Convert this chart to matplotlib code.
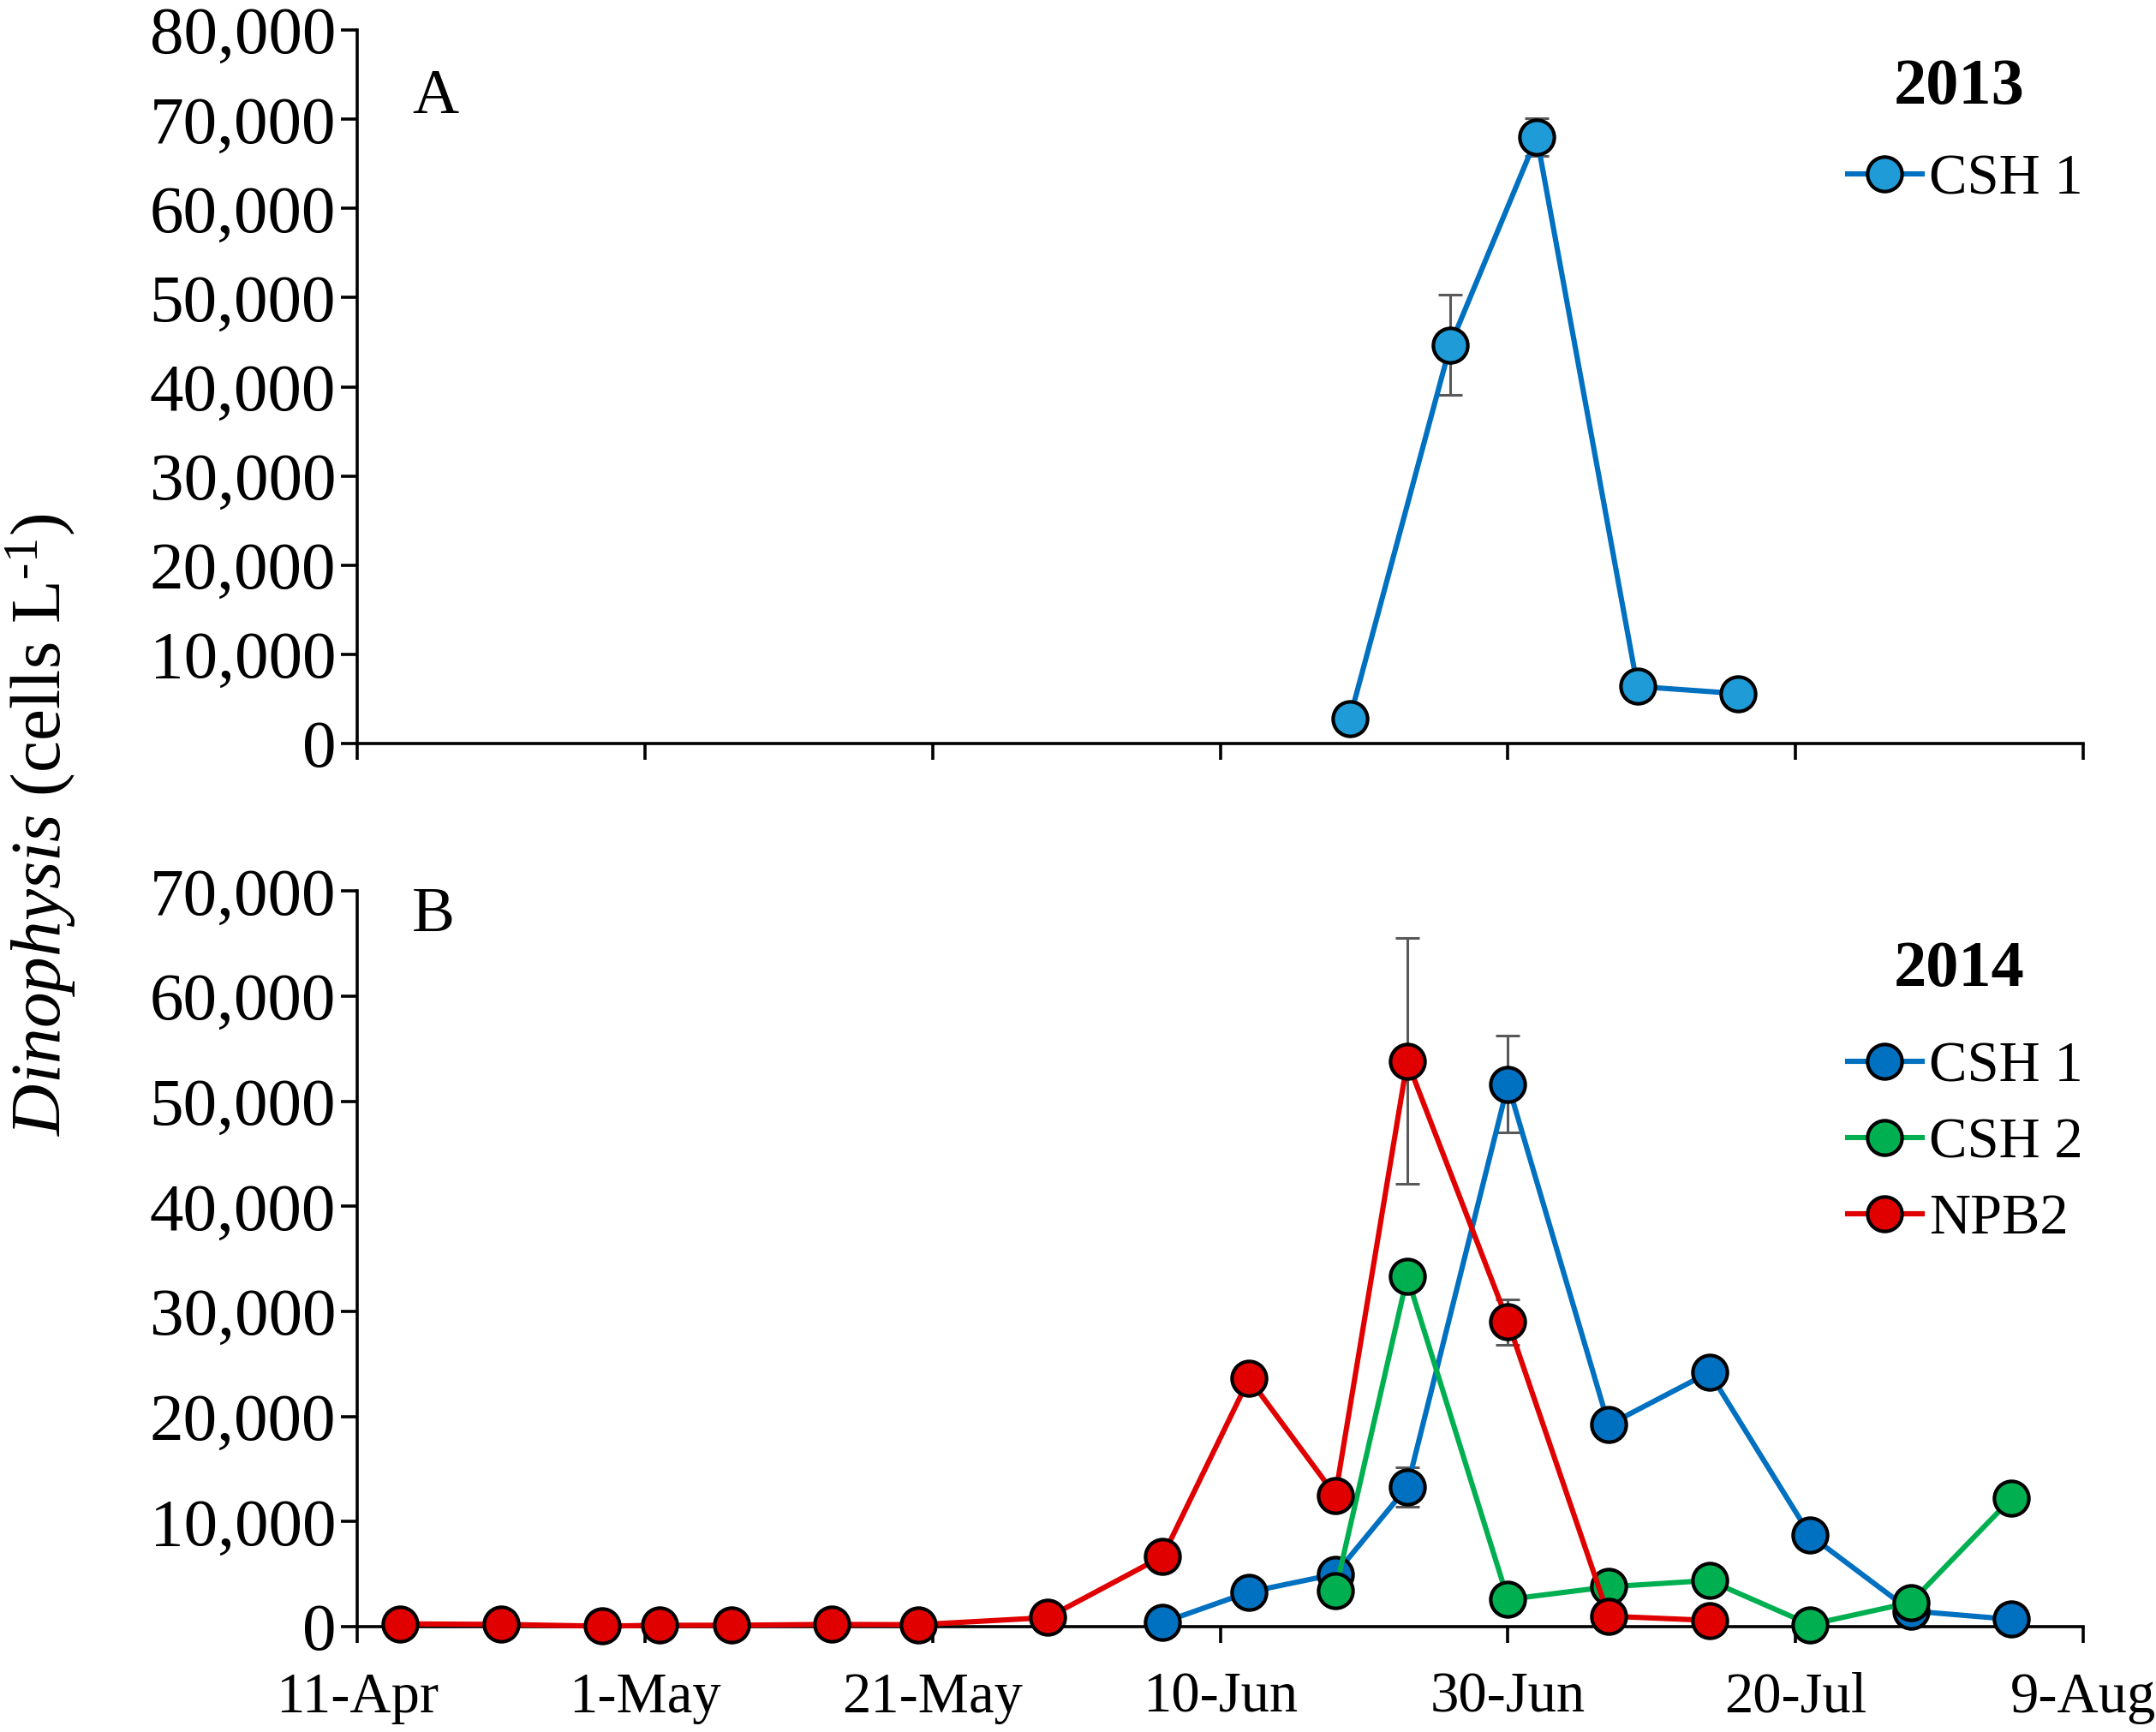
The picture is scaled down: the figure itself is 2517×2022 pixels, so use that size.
import matplotlib
matplotlib.use('Agg')
import matplotlib.pyplot as plt
from matplotlib.ticker import FuncFormatter
import pandas as pd

plt.rcParams['font.family'] = ['Liberation Serif', 'DejaVu Serif']
plt.rcParams['mathtext.fontset'] = 'custom'
plt.rcParams['mathtext.rm'] = 'Liberation Serif'
plt.rcParams['mathtext.it'] = 'Liberation Serif:italic'

# 2013 (panel A)
dates_2013 = ['06-19', '06-26', '07-02', '07-09', '07-16']
csh1_2013 = [2800, 44700, 68000, 6400, 5600]
csh1_2013_err = [0, 5600, 2100, 0, 0]

# 2014 (panel B)
csh1_dates = ['06-06', '06-12', '06-18', '06-23', '06-30', '07-07', '07-14', '07-21', '07-28', '08-04']
csh1_2014 = [400, 3300, 5000, 13300, 51600, 19200, 24200, 8700, 1500, 700]
csh1_2014_err = [0, 0, 0, 1900, 4600, 0, 0, 0, 0, 0]

csh2_dates = ['06-18', '06-23', '06-30', '07-07', '07-14', '07-21', '07-28', '08-04']
csh2_2014 = [3400, 33300, 2600, 3800, 4400, 200, 2300, 12200]

npb2_dates = ['04-14', '04-21', '04-28', '05-02', '05-07', '05-14', '05-20', '05-29',
              '06-06', '06-12', '06-18', '06-23', '06-30', '07-07', '07-14']
npb2_2014 = [270, 220, 50, 140, 140, 220, 190, 870, 6700, 23600, 12500, 53800, 29000, 1000, 600]
npb2_2014_err = [0, 0, 0, 0, 0, 0, 0, 0, 0, 0, 0, 11700, 2150, 0, 0]

tick_dates = ['04-11', '05-01', '05-21', '06-10', '06-30', '07-20', '08-09']
tick_labels = ['11-Apr', '1-May', '21-May', '10-Jun', '30-Jun', '20-Jul', '9-Aug']


def day_offset(md, year):
    # days since 11 April of the given year
    d = pd.to_datetime([f'{year}-{s}' for s in md])
    return list((d - pd.Timestamp(f'{year}-04-11')).days)


FS_X = 48
FS_Y = 57
FS_LEG = 48
ERR_COLOR = '#595959'


def style_axis(ax, ymax, show_labels):
    ax.set_xlim(0, 120)
    ax.set_ylim(0, ymax)
    ax.set_yticks(range(0, ymax + 1, 10000))
    ax.yaxis.set_major_formatter(FuncFormatter(lambda v, p: f'{int(v):,}'))
    ax.set_xticks(day_offset(tick_dates, 2014))
    if show_labels:
        ax.set_xticklabels(tick_labels)
    else:
        ax.set_xticklabels([])
    ax.spines['top'].set_visible(False)
    ax.spines['right'].set_visible(False)
    for s in ['left', 'bottom']:
        ax.spines[s].set_linewidth(2.6)
    ax.tick_params(axis='both', direction='out', length=14, width=2.6)
    ax.tick_params(axis='y', labelsize=FS_Y, pad=4)
    ax.tick_params(axis='x', labelsize=FS_X, pad=24)


def series(ax, x, y, line_c, fill_c, label, err=None, z=3):
    if err is not None:
        ax.errorbar(x, y, yerr=err, fmt='none', ecolor=ERR_COLOR, elinewidth=2.2,
                    capsize=10, capthick=2.2, zorder=2)
    ax.plot(x, y, '-o', color=line_c, lw=4.4, ms=29, mfc=fill_c, mec='black', mew=3.0,
            label=label, zorder=z, clip_on=False)


fig = plt.figure(figsize=(25.17, 20.22), dpi=100)
ax1 = fig.add_axes([0.1657, 0.5707, 0.8006, 0.412])
ax2 = fig.add_axes([0.1657, 0.0608, 0.8006, 0.4248])

# Panel A
series(ax1, day_offset(dates_2013, 2013), csh1_2013, '#0070C0', '#1F9BD7', 'CSH 1', csh1_2013_err)
style_axis(ax1, 80000, False)
ax1.legend(loc='center left', bbox_to_anchor=(2157 / 2517, 1 - 210 / 2022),
           bbox_transform=fig.transFigure, frameon=False, fontsize=FS_LEG,
           handlelength=1.3, handletextpad=0.12, borderpad=0, borderaxespad=0)
fig.text(481 / 2517, 1 - 114 / 2022, 'A', fontsize=54, va='center', ha='left')
fig.text(2287 / 2517, 1 - 102 / 2022, '2013', fontsize=55, fontweight='bold', va='center', ha='center')

# Panel B
series(ax2, day_offset(csh1_dates, 2014), csh1_2014, '#0070C0', '#0070C0', 'CSH 1', csh1_2014_err, z=3)
series(ax2, day_offset(csh2_dates, 2014), csh2_2014, '#00B050', '#00B050', 'CSH 2', z=4)
series(ax2, day_offset(npb2_dates, 2014), npb2_2014, '#E00000', '#E00000', 'NPB2', npb2_2014_err, z=5)
style_axis(ax2, 70000, True)
ax2.legend(loc='center left', bbox_to_anchor=(2157 / 2517, 1 - 1335 / 2022),
           bbox_transform=fig.transFigure, frameon=False, fontsize=FS_LEG,
           handlelength=1.3, handletextpad=0.12, borderpad=0, borderaxespad=0,
           labelspacing=0.42)
fig.text(481 / 2517, 1 - 1069 / 2022, 'B', fontsize=54, va='center', ha='left')
fig.text(2287 / 2517, 1 - 1133 / 2022, '2014', fontsize=55, fontweight='bold', va='center', ha='center')

fig.text(48 / 2517, 1 - 963 / 2022, r'$\it{Dinophysis}$ (cells L$^{\text{-1}}$)', fontsize=60,
         rotation=90, va='center', ha='center')

fig.savefig('out.png', dpi=100)
